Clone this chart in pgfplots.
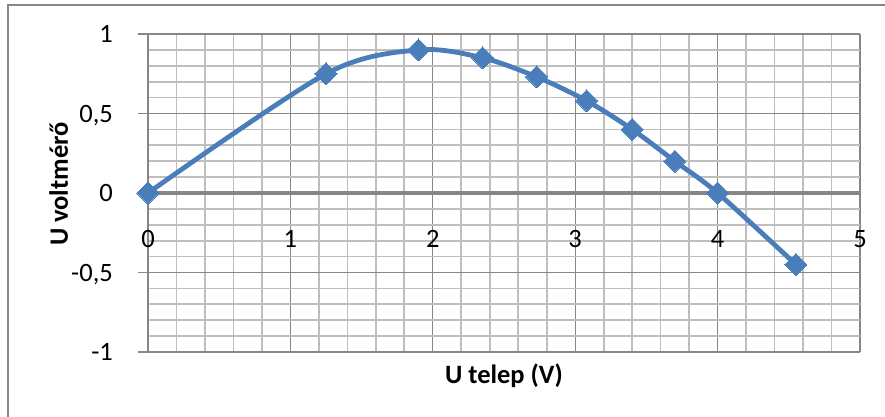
\documentclass[border=0pt]{standalone}
\usepackage{pgfplots}
\pgfplotsset{compat=1.18}
\usepackage{fontspec}
\setmainfont{Carlito}
\definecolor{serie}{HTML}{4A7EBB}
\definecolor{gridmajor}{HTML}{868686}
\definecolor{gridminor}{HTML}{BEBEBE}
\definecolor{framegray}{HTML}{878787}
\begin{document}
\begin{tikzpicture}[x=1pt,y=1pt]
\useasboundingbox (0,0) rectangle (885,416);
\clip (0,0) rectangle (885,416);
% chart area border
\draw[framegray, line width=2pt] (8,-10) -- (8,411.3) -- (900,411.3);
\begin{axis}[
  at={(148pt,64pt)}, anchor=south west,
  scale only axis, width=712pt, height=318pt,
  xmin=0, xmax=5, ymin=-1, ymax=1,
  axis x line=middle, axis y line=left,
  hide obscured x ticks=false,
  axis line style={-, gridmajor, line width=1.5pt},
  x axis line style={line width=3.5pt},
  xtick={0,1,2,3,4,5}, ytick={-1,-0.5,0,0.5,1},
  minor x tick num=4, minor y tick num=4,
  grid=both,
  major grid style={gridmajor, line width=1.2pt},
  minor grid style={gridminor, line width=1.7pt},
  tick align=outside,
  major tick length=10pt, minor tick length=0pt,
  tick style={gridmajor, line width=1.3pt},
  clip=false,
  /pgf/number format/assume math mode=true,
  /pgf/number format/use comma,
  ticklabel style={font=\fontsize{26.5}{30}\selectfont, text=black, inner sep=0pt},
  xticklabel style={anchor=base, yshift=-44pt},
  yticklabel style={anchor=base east, xshift=-25pt, yshift=-8.5pt},
  label style={font=\bfseries\fontsize{26.5}{30}\selectfont, text=black, inner sep=0pt},
  xlabel={U telep (V)},
  ylabel={U voltmérő},
  xlabel style={at={(axis description cs:0.5,0)}, anchor=base, yshift=-31pt},
  ylabel style={at={(axis description cs:-0.1124,0.528)}, anchor=base},
]
\addplot[serie, line width=4.8pt, smooth, tension=0.5,
  mark=square*, mark size=7.8pt,
  mark options={rotate=45, fill=serie, draw=serie, line width=0pt}]
  coordinates {
    (0,0) (1.25,0.75) (1.9,0.9) (2.35,0.85) (2.73,0.73)
    (3.08,0.58) (3.4,0.4) (3.7,0.2) (4.0,0.0) (4.55,-0.45)
  };
\end{axis}
\end{tikzpicture}
\end{document}
